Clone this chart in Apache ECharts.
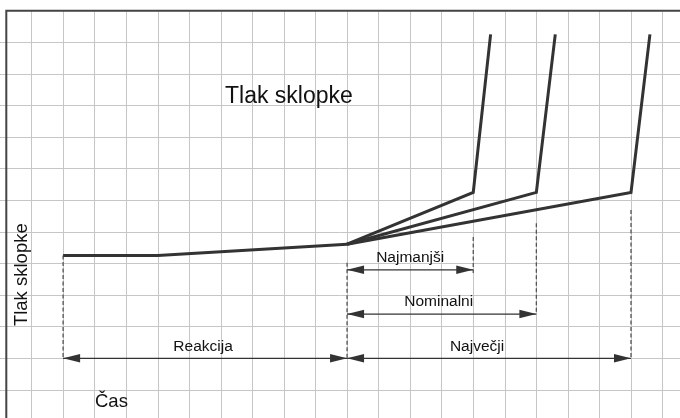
<!DOCTYPE html>
<html>
<head>
<meta charset="utf-8">
<script src="https://cdn.jsdelivr.net/npm/echarts@6/dist/echarts.min.js"></script>
<style>
html,body{margin:0;padding:0;background:#fff;}
#chart{width:680px;height:418px;}
</style>
</head>
<body>
<div id="chart"></div>
<script>
// ---- data (grid-cell units) ----
const reactionLine = [[2, 5.25], [5, 5.25], [11, 5.61]];
const minBranch = [[11, 5.61], [15, 7.25], [15.55, 12.25]];
const nomBranch = [[11, 5.61], [17, 7.25], [17.6, 12.25]];
const maxBranch = [[11, 5.61], [20, 7.25], [20.6, 12.25]];

const spanNames = ['Reakcija', 'Najmanjši', 'Nominalni', 'Največji'];
const spanStart = [2, 11, 11, 11];
const spanEnd = [11, 15, 17, 20];
const spanLevel = [2, 4.8, 3.4, 2];

const extX = [2, 11, 15, 17, 20];
const extTop = [5.25, 5.02, 5.84, 6.27, 6.69];
const extBottom = [2, 2, 4.7, 3.4, 2];

const titleText = 'Tlak sklopke';
const yName = 'Tlak sklopke';
const xName = 'Čas';

// ---- style ----
const FONT = '"Liberation Sans", Arial, sans-serif';
const labelDx = [-2, 0, -3, -12];
const ink = '#333';

const chart = echarts.init(document.getElementById('chart'), null, {renderer: 'canvas'});

const lineSeries = (data) => ({
  type: 'line', data: data, symbol: 'none', z: 5, animation: false,
  lineStyle: {color: ink, width: 3, cap: 'butt', join: 'miter'}
});

chart.setOption({
  animation: false,
  backgroundColor: '#fff',
  title: {
    text: titleText, left: 220, top: 80,
    textStyle: {fontFamily: FONT, fontSize: 23, fontWeight: 'normal', color: '#111'}
  },
  grid: {left: 0, top: 10.7, width: 694.1, height: 410.8, containLabel: false, outerBoundsMode: 'none'},
  xAxis: {
    type: 'value', min: 0, max: 22, interval: 1,
    axisLine: {show: false}, axisTick: {show: false}, axisLabel: {show: false},
    splitLine: {show: true, showMinLine: false, lineStyle: {color: '#c6c6c6', width: 1}}
  },
  yAxis: {
    type: 'value', min: 0, max: 13, interval: 1,
    axisLine: {show: false}, axisTick: {show: false}, axisLabel: {show: false},
    splitLine: {show: true, showMaxLine: false, lineStyle: {color: '#c6c6c6', width: 1}}
  },
  graphic: [
    {type: 'polyline', z: 100, shape: {points: [[6.3, 420], [6.3, 10.7], [682, 10.7]]},
     style: {stroke: '#444', lineWidth: 2, fill: null}},
    {type: 'text', z: 100, x: 21.5, y: 274.7, rotation: Math.PI / 2,
     style: {text: yName, font: '18.5px ' + FONT, fill: '#111', align: 'center', verticalAlign: 'middle'},
     originX: 0, originY: 0},
    {type: 'text', z: 100, x: 95, y: 401.5,
     style: {text: xName, font: '18.5px ' + FONT, fill: '#111', align: 'left', verticalAlign: 'middle'}}
  ],
  series: [
    {
      type: 'custom', z: 2, clip: false,
      data: extX.map((x, i) => [x, extTop[i], extBottom[i]]),
      renderItem: function (params, api) {
        const a = api.coord([api.value(0), api.value(1)]);
        const b = api.coord([api.value(0), api.value(2)]);
        return {
          type: 'line',
          shape: {x1: a[0], y1: a[1], x2: b[0], y2: b[1]},
          style: {stroke: '#555', lineWidth: 1.3, lineDash: [4, 2.5]}
        };
      }
    },
    {
      type: 'custom', z: 3, clip: false,
      data: spanStart.map((s, i) => [s, spanEnd[i], spanLevel[i]]),
      renderItem: function (params, api) {
        const i = params.dataIndex;
        const p0 = api.coord([api.value(0), api.value(2)]);
        const p1 = api.coord([api.value(1), api.value(2)]);
        const L = 17, H = 4.3;
        return {
          type: 'group',
          children: [
            {type: 'line', shape: {x1: p0[0], y1: p0[1], x2: p1[0], y2: p1[1]},
             style: {stroke: ink, lineWidth: 1.2}},
            {type: 'polygon', shape: {points: [[p0[0], p0[1]], [p0[0] + L, p0[1] - H], [p0[0] + L, p0[1] + H]]},
             style: {fill: ink}},
            {type: 'polygon', shape: {points: [[p1[0], p1[1]], [p1[0] - L, p1[1] - H], [p1[0] - L, p1[1] + H]]},
             style: {fill: ink}},
            {type: 'text', x: (p0[0] + p1[0]) / 2 + labelDx[i], y: p0[1] - 12,
             style: {text: spanNames[i], font: '15.5px ' + FONT, fill: '#111', align: 'center', verticalAlign: 'middle'}}
          ]
        };
      }
    },
    lineSeries(reactionLine),
    lineSeries(minBranch),
    lineSeries(nomBranch),
    lineSeries(maxBranch)
  ]
});
</script>
</body>
</html>
